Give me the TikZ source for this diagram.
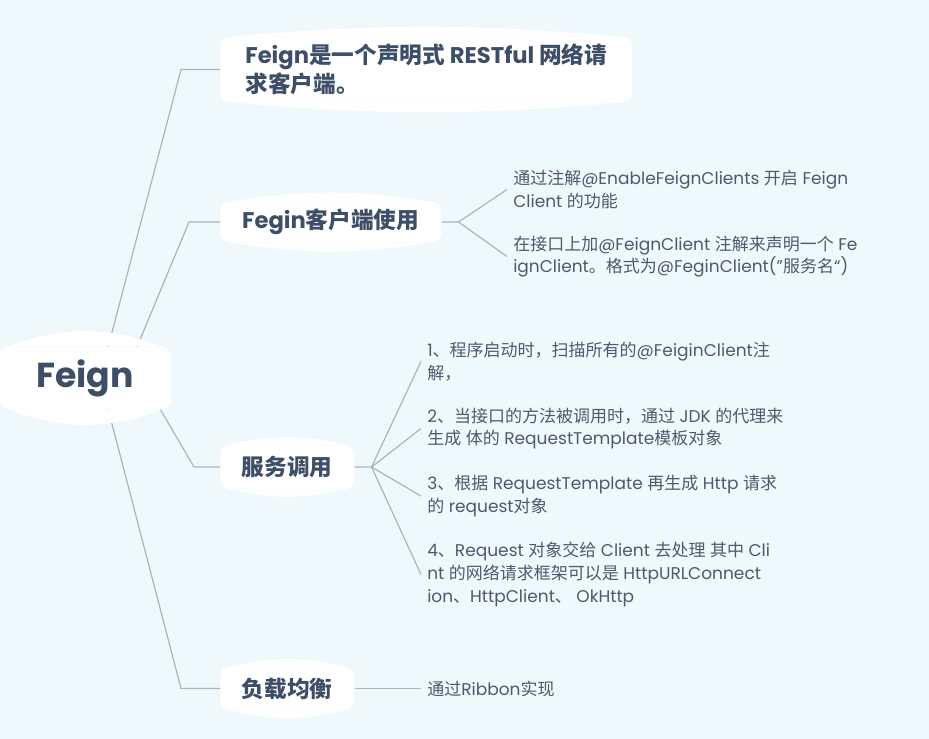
\documentclass[tikz,border=0pt]{standalone}
\usepackage{fontspec}
\setmainfont{Poppins}
\newfontfamily\cjkfont{Noto Sans CJK SC}
\usetikzlibrary{calc}
\definecolor{paperblue}{HTML}{EFF8FB}
\definecolor{topicink}{HTML}{3D4E66}
\definecolor{leafink}{HTML}{4B5B6F}
\definecolor{branchgray}{HTML}{A7B6C5}

% CJK runs switch to the CJK font by themselves
\XeTeXinterchartokenstate=1
\newXeTeXintercharclass\cjkclass
\newcount\cjkcode
\cjkcode="3000 \loop \XeTeXcharclass\cjkcode=\cjkclass \ifnum\cjkcode<"303F \advance\cjkcode by 1 \repeat
\cjkcode="4E00 \loop \XeTeXcharclass\cjkcode=\cjkclass \ifnum\cjkcode<"9FFF \advance\cjkcode by 1 \repeat
\cjkcode="FF00 \loop \XeTeXcharclass\cjkcode=\cjkclass \ifnum\cjkcode<"FFEF \advance\cjkcode by 1 \repeat
\XeTeXinterchartoks 0 \cjkclass = {\cjkfont}
\XeTeXinterchartoks 4095 \cjkclass = {\cjkfont}
\XeTeXinterchartoks \cjkclass 0 = {\rmfamily}
\XeTeXinterchartoks \cjkclass 4095 = {\rmfamily}
\XeTeXinterchartoks 4095 0 = {\rmfamily}

\pgfdeclarelayer{edges}
\pgfdeclarelayer{background}
\pgfsetlayers{edges,background,main}

\newcommand\topicbulge[3]{%
  \fill[white] ([xshift=#3]#1.north west) to[bend left=#2] ([xshift=-#3]#1.north east) -- cycle;
  \fill[white] ([xshift=#3]#1.south west) to[bend right=#2] ([xshift=-#3]#1.south east) -- cycle;}

\begin{document}
\begin{tikzpicture}[x=0.75pt,y=-0.75pt,
    topic/.style={fill=white,rounded corners=6.75pt,text=topicink,inner sep=0pt,align=left,
      font=\bfseries\fontsize{17}{21.75}\selectfont},
    leaf/.style={text=leafink,anchor=west,inner xsep=4.5pt,inner ysep=0pt,align=left,
      font=\fontsize{12.75}{16.9}\selectfont},
    branch/.style={draw=branchgray,line width=0.9pt}]

  \useasboundingbox (0,0) rectangle (929,739);

  \node[topic,rounded corners=7.5pt,minimum width=129pt,minimum height=47.25pt,
    font=\bfseries\fontsize{26}{30}\selectfont] (feign) at (85,378) {Feign};

  \node[topic,anchor=west,minimum width=309pt,minimum height=48.75pt] (intro) at (220,69.5)
    {Feign是一个声明式 RESTful 网络请\\求客户端。};
  \node[topic,anchor=west,minimum width=165.75pt,minimum height=30pt] (usage) at (220,222) {Fegin客户端使用};
  \node[topic,anchor=west,minimum width=100.5pt,minimum height=33pt] (calls) at (220,467) {服务调用};
  \node[topic,anchor=west,minimum width=100.5pt,minimum height=32.25pt] (balance) at (220,688.5) {负载均衡};

  \node[leaf] (enable) at (507,189.5) {通过注解@EnableFeignClients 开启 Feign\\Client 的功能};
  \node[leaf] (declare) at (507,256.5) {在接口上加@FeignClient 注解来声明一个 Fe\\ignClient。格式为@FeginClient("服务名“)};
  \node[leaf] (step1) at (421,361.5) {1、程序启动时，扫描所有的@FeiginClient注\\解，};
  \node[leaf] (step2) at (421,428.5) {2、当接口的方法被调用时，通过 JDK 的代理来\\生成 体的 RequestTemplate模板对象};
  \node[leaf] (step3) at (421,496) {3、根据 RequestTemplate 再生成 Http 请求\\的 request对象};
  \node[leaf] (step4) at (421,574.5) {4、Request 对象交给 Client 去处理 其中 Cli\\nt 的网络请求框架可以是 HttpURLConnect\\ion、HttpClient、 OkHttp};
  \node[leaf] (ribbon) at (421,688.5) {通过Ribbon实现};

  \begin{pgfonlayer}{background}
    \topicbulge{feign}{20}{7.5pt}
    \topicbulge{intro}{5}{6.75pt}
    \topicbulge{usage}{9}{6.75pt}
    \topicbulge{calls}{13}{6.75pt}
    \topicbulge{balance}{13}{6.75pt}
  \end{pgfonlayer}

  \begin{pgfonlayer}{edges}
    \fill[paperblue] (0,0) rectangle (929,739);
    \coordinate (r1) at ([xshift=11.25pt]feign.center);
    \coordinate (r2) at ([xshift=29.25pt]feign.center);
    \coordinate (r3) at ([xshift=42.75pt]feign.center);
    \draw[branch] (r1) -- ([xshift=-29.25pt]intro.west) -- (intro.west);
    \draw[branch] (r2) -- ([xshift=-23.25pt]usage.west) -- (usage.west);
    \draw[branch] (r3) -- ([xshift=-19.5pt]calls.west) -- (calls.west);
    \draw[branch] (r1) -- ([xshift=-29.25pt]balance.west) -- (balance.west);
    % second level
    \coordinate (usagefork) at ([xshift=12.75pt]usage.east);
    \draw[branch] (usage.east) -- (usagefork) -- (enable.west);
    \draw[branch] (usagefork) -- (declare.west);
    \coordinate (callsfork) at ([xshift=12.75pt]calls.east);
    \draw[branch] (calls.east) -- (callsfork) -- (step1.west);
    \draw[branch] (callsfork) -- (step2.west);
    \draw[branch] (callsfork) -- (step3.west);
    \draw[branch] (callsfork) -- (step4.west);
    \draw[branch] (balance.east) -- (ribbon.west);
  \end{pgfonlayer}
\end{tikzpicture}
\end{document}
